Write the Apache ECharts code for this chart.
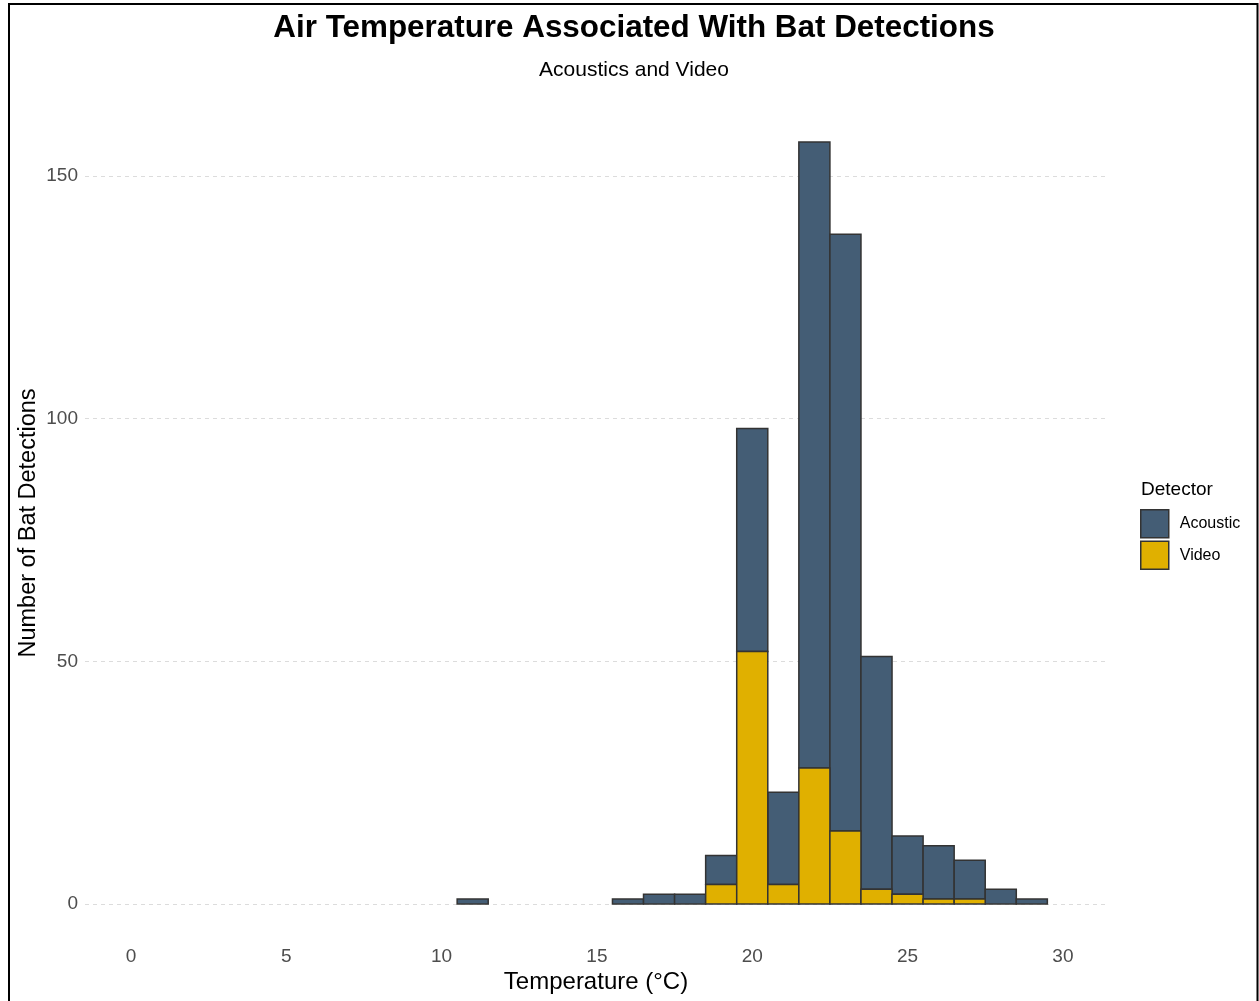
<!DOCTYPE html>
<html><head><meta charset="utf-8">
<script src="https://cdn.jsdelivr.net/npm/echarts@6/dist/echarts.min.js"></script>
<style>html,body{margin:0;padding:0;background:#fff}#c{width:1259px;height:1001px}</style>
</head><body><div id="c"></div>
<script>
const temperatures = [11,16,17,18,19,20,21,22,23,24,25,26,27,28,29];
const videoCounts = [0,0,0,0,4,52,4,28,15,3,2,1,1,0,0];
const acousticCounts = [1,1,2,2,6,46,19,129,123,48,12,11,8,3,1];
const binWidth = 1;
const xTicks = [0,5,10,15,20,25,30];
const yTicks = [0,50,100,150];

const FONT = '"Liberation Sans", Arial, sans-serif';
const videoData = [], acousticData = [];
temperatures.forEach((t,i)=>{
  const v = videoCounts[i], a = acousticCounts[i];
  if (v > 0) videoData.push([t, 0, v]);
  if (a > 0) acousticData.push([t, v, v + a]);
});
function renderBin(params, api){
  const x = api.value(0), y0 = api.value(1), y1 = api.value(2);
  const p0 = api.coord([x - binWidth/2, y0]);
  const p1 = api.coord([x + binWidth/2, y1]);
  return {type:'rect', shape:{x:p0[0], y:p1[1], width:p1[0]-p0[0], height:p0[1]-p1[1]},
    style:{fill: api.visual('color'), stroke:'#333333', lineWidth:1.5}};
}
const chart = echarts.init(document.getElementById('c'), null, {renderer:'canvas'});
chart.setOption({
  animation:false,
  backgroundColor:'#fff',
  title:[
    {text:'Air Temperature Associated With Bat Detections', left:629, top:8, textAlign:'center',
     textStyle:{fontFamily:FONT, fontSize:31.4, fontWeight:'bold', color:'#000'}},
    {text:'Acoustics and Video', left:629, top:55, textAlign:'center',
     textStyle:{fontFamily:FONT, fontSize:21, fontWeight:'normal', color:'#000'}}
  ],
  grid:{left:85, right:152, top:104, bottom:59, containLabel:false},
  xAxis:{type:'value', min:-1.48, max:31.42, name:'Temperature (°C)', nameLocation:'middle', nameGap:28,
    nameMoveOverlap:false,
    nameTextStyle:{fontFamily:FONT, fontSize:24, color:'#000'},
    axisLine:{show:false, onZero:false}, axisTick:{show:false, customValues:xTicks},
    axisLabel:{customValues:xTicks, fontFamily:FONT, fontSize:19, color:'#4d4d4d', margin:5},
    splitLine:{show:false}},
  yAxis:{type:'value', min:-7.85, max:164.85, name:'Number of Bat Detections', nameLocation:'middle', nameGap:44,
    nameMoveOverlap:false,
    nameTextStyle:{fontFamily:FONT, fontSize:23.5, color:'#000'},
    axisLine:{show:false}, axisTick:{show:false, customValues:yTicks},
    axisLabel:{customValues:yTicks, fontFamily:FONT, fontSize:19, color:'#4d4d4d', margin:7},
    splitLine:{show:true, lineStyle:{color:'#dcdcdc', width:1, type:[4,4]}}},
  legend:{orient:'vertical', left:1140, top:509, padding:0, itemWidth:28, itemHeight:28, itemGap:2,
    data:['Acoustic','Video'], icon:'rect',
    itemStyle:{borderColor:'#333333', borderWidth:1.5},
    textStyle:{fontFamily:FONT, fontSize:16, color:'#000', padding:[0,0,0,6]}},
  graphic:[
    {type:'text', x:1141, y:480, style:{text:'Detector', font:'19px '+FONT, fill:'#000'}},
    {type:'rect', shape:{x:9, y:4, width:1248.5, height:1010}, style:{fill:'none', stroke:'#000', lineWidth:2}, silent:true}
  ],
  series:[
    {name:'Acoustic', type:'custom', renderItem:renderBin, data:acousticData, encode:{x:0, y:[1,2]},
     itemStyle:{color:'#445D75'}},
    {name:'Video', type:'custom', renderItem:renderBin, data:videoData, encode:{x:0, y:[1,2]},
     itemStyle:{color:'#E0B000'}}
  ]
});
</script></body></html>
